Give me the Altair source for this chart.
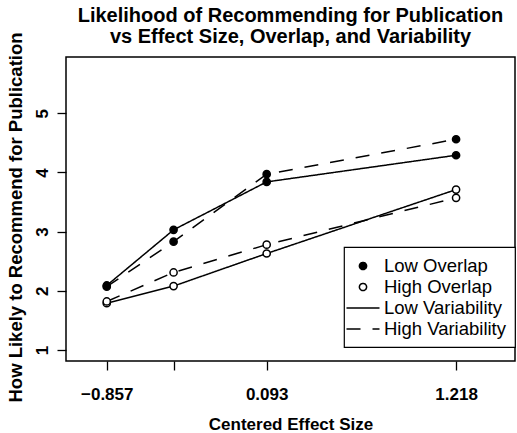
import altair as alt
import pandas as pd

# ---- data ----
effect_sizes = [-0.857, -0.46, 0.093, 1.218]
x_tick_labels = ["\u22120.857", "", "0.093", "1.218"]
y_ticks = [1, 2, 3, 4, 5]

low_overlap_low_var = [2.09, 3.03, 3.84, 4.29]
low_overlap_high_var = [2.07, 2.83, 3.97, 4.56]
high_overlap_low_var = [1.79, 2.08, 2.63, 3.71]
high_overlap_high_var = [1.82, 2.31, 2.78, 3.57]

legend_keys = ["Low Overlap", "High Overlap", "Low Variability", "High Variability"]

series = [
    ("Low Overlap", "Low Variability", low_overlap_low_var),
    ("Low Overlap", "High Variability", low_overlap_high_var),
    ("High Overlap", "Low Variability", high_overlap_low_var),
    ("High Overlap", "High Variability", high_overlap_high_var),
]
rows = []
for ov, var, vals in series:
    for x, v in zip(effect_sizes, vals):
        rows.append({"effect": x, "value": v, "overlap": ov, "variability": var})
df = pd.DataFrame(rows)

FONT = "Liberation Sans"
CIRCLE = "M-0.36,0A0.36,0.36,0,1,0,0.36,0A0.36,0.36,0,1,0,-0.36,0Z"
LINE = "M-1.65,0L1.65,0"

label_expr = " : ".join(
    f"datum.value == {v} ? '{lab}'" for v, lab in zip(effect_sizes, x_tick_labels)
) + " : datum.label"

x_enc = alt.X(
    "effect:Q",
    scale=alt.Scale(domain=[-1.099, 1.568], nice=False, zero=False),
    axis=alt.Axis(
        values=effect_sizes,
        labelExpr=label_expr,
        title="Centered Effect Size",
        titleY=68,
        titleBaseline="alphabetic",
        labelPadding=16,
        labelFlush=False,
        labelOverlap=False,
    ),
)
y_enc = alt.Y(
    "value:Q",
    scale=alt.Scale(domain=[0.814, 5.95], nice=False, zero=False),
    axis=alt.Axis(
        values=y_ticks,
        format="d",
        title="How Likely to Recommend for Publication",
        titleX=-45,
        titleY=160,
        titleAlign="center",
        titleBaseline="alphabetic",
        titleFontSize=18.5,
        labelAngle=270,
        labelAlign="center",
        labelBaseline="alphabetic",
        labelPadding=10,
    ),
)

lines = alt.Chart(df).transform_calculate(key="datum.variability").mark_line(
    color="black", strokeWidth=1.5
).encode(
    x=x_enc,
    y=y_enc,
    strokeDash=alt.StrokeDash(
        "key:N",
        scale=alt.Scale(domain=legend_keys, range=[[1, 0], [1, 0], [1, 0], [14, 12]]),
        legend=alt.Legend(title=None),
    ),
    detail="overlap:N",
    order="effect:Q",
)

points = alt.Chart(df.rename(columns={"overlap": "key"})).mark_point(
    filled=True, strokeWidth=1.5, size=400, opacity=1
).encode(
    x=x_enc,
    y=y_enc,
    shape=alt.Shape(
        "key:N",
        scale=alt.Scale(domain=legend_keys, range=[CIRCLE, CIRCLE, LINE, LINE]),
        legend=alt.Legend(title=None),
    ),
    fill=alt.Fill(
        "key:N",
        scale=alt.Scale(domain=legend_keys, range=["black", "white", "transparent", "transparent"]),
        legend=alt.Legend(title=None),
    ),
    stroke=alt.Stroke(
        "key:N",
        scale=alt.Scale(domain=legend_keys, range=["black", "black", "black", "black"]),
        legend=alt.Legend(title=None),
    ),
)

chart = (
    alt.layer(lines, points)
    .properties(
        width=449,
        height=304,
        autosize=alt.AutoSizeParams(type="none"),
        padding={"left": 66, "top": 57, "right": 2, "bottom": 72},
        title=alt.TitleParams(
            ["Likelihood of Recommending for Publication", "vs Effect Size, Overlap, and Variability"],
            font=FONT,
            fontSize=20,
            fontWeight="bold",
            color="black",
            anchor="middle",
            lineHeight=21,
            offset=9,
            dy=24,
        ),
    )
    .configure_view(stroke="black", strokeWidth=1.5)
    .configure_axis(
        domain=False,
        grid=False,
        tickColor="black",
        tickSize=9,
        tickWidth=1.3,
        labelFont=FONT,
        labelFontSize=17,
        labelFontWeight="bold",
        labelColor="black",
        titleFont=FONT,
        titleFontSize=17,
        titleFontWeight="bold",
        titleColor="black",
    )
    .configure_legend(
        orient="none",
        legendX=278,
        legendY=190,
        padding=8,
        strokeColor="black",
        strokeWidth=1.2,
        fillColor="white",
        cornerRadius=0,
        symbolSize=400,
        symbolStrokeColor="black",
        symbolStrokeWidth=1.5,
        symbolOpacity=1,
        labelFont=FONT,
        labelFontSize=18.5,
        labelColor="black",
        labelOffset=10,
        rowPadding=0,
        titlePadding=0,
    )
)

chart.save("out.html", embed_options={"renderer": "svg", "actions": False})
